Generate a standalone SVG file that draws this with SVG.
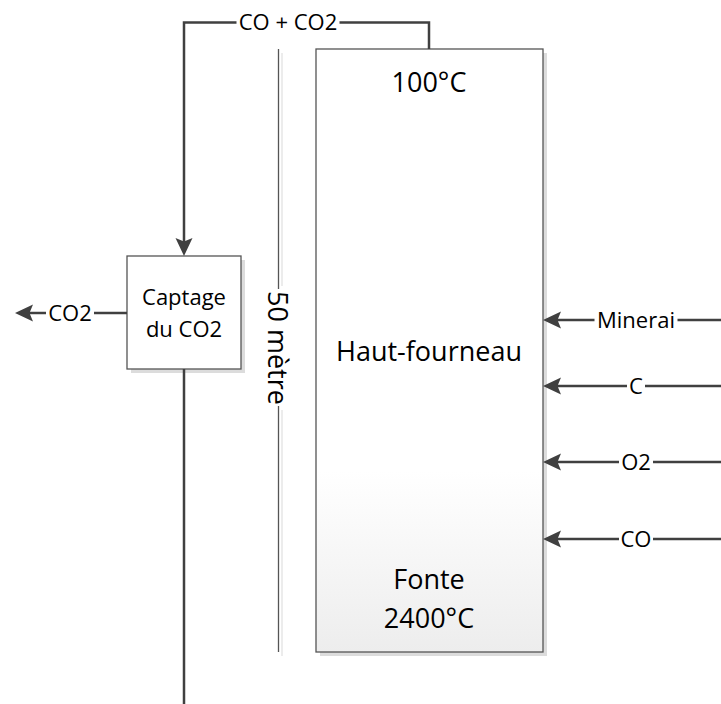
<svg xmlns="http://www.w3.org/2000/svg" width="721" height="704" viewBox="0 0 721 704">
<style>
text{font-family:"Open Sans","Noto Sans","Liberation Sans",sans-serif;fill:#000}
.big{font-size:27px}
.sm{font-size:22px}
.conn{fill:none;stroke:#404040;stroke-width:2.5}
.box{stroke:#555;stroke-width:1.3}
.shadow{fill:#dcdcdc}
</style>
<defs>
<marker id="arr" markerUnits="userSpaceOnUse" markerWidth="18" markerHeight="18" viewBox="0 0 18 18" refX="8" refY="9" orient="auto">
<path d="M0,0.5 L18,9 L0,17.5 L3.5,9 Z" fill="#404040"/>
</marker>
<linearGradient id="g" x1="0" y1="0" x2="0" y2="1">
<stop offset="0" stop-color="#ffffff"/>
<stop offset="0.7" stop-color="#ffffff"/>
<stop offset="1" stop-color="#ededed"/>
</linearGradient>
</defs>

<g id="dimension">
<line x1="282" y1="53" x2="282" y2="656" stroke="#e2e2e2" stroke-width="1.3"/>
<rect x="264" y="286" width="26" height="124" fill="#fff"/>
<line x1="278.5" y1="49" x2="278.5" y2="289" stroke="#555" stroke-width="1.3"/>
<line x1="278.5" y1="406" x2="278.5" y2="652" stroke="#555" stroke-width="1.3"/>
<text class="big" transform="translate(268,348) rotate(90)" text-anchor="middle">50 mètre</text>
</g>

<g id="haut-fourneau">
<rect class="shadow" x="320" y="53" width="227" height="603"/>
<rect class="box" x="316" y="49" width="227" height="603" fill="url(#g)"/>
<text class="big" x="429" y="92" text-anchor="middle">100°C</text>
<text class="big" x="429" y="361" text-anchor="middle">Haut-fourneau</text>
<text class="big" x="429" y="589" text-anchor="middle">Fonte</text>
<text class="big" x="429" y="628" text-anchor="middle">2400°C</text>
</g>

<g id="captage">
<rect class="shadow" x="131" y="260" width="114" height="113"/>
<rect class="box" x="127" y="256" width="114" height="113" fill="#fff"/>
<text class="sm" x="184" y="305" text-anchor="middle">Captage</text>
<text class="sm" x="184" y="337" text-anchor="middle">du CO2</text>
</g>

<g id="connectors">
<path class="conn" d="M429,49 V22.5 H339.5"/>
<path class="conn" d="M236.5,22.5 H184 V246" marker-end="url(#arr)"/>
<text class="sm" x="288" y="30" text-anchor="middle">CO + CO2</text>

<path class="conn" d="M127,313 H94"/>
<path class="conn" d="M46,313 H25" marker-end="url(#arr)"/>
<text class="sm" x="70" y="321" text-anchor="middle">CO2</text>

<path class="conn" d="M184,369 V704"/>

<path class="conn" d="M721,320 H677.5"/>
<path class="conn" d="M594.5,320 H553" marker-end="url(#arr)"/>
<text class="sm" x="636" y="327.5" text-anchor="middle">Minerai</text>

<path class="conn" d="M721,386 H645"/>
<path class="conn" d="M627,386 H553" marker-end="url(#arr)"/>
<text class="sm" x="636" y="393.5" text-anchor="middle">C</text>

<path class="conn" d="M721,462 H653"/>
<path class="conn" d="M619,462 H553" marker-end="url(#arr)"/>
<text class="sm" x="636" y="469.5" text-anchor="middle">O2</text>

<path class="conn" d="M721,539 H653"/>
<path class="conn" d="M619,539 H553" marker-end="url(#arr)"/>
<text class="sm" x="636" y="546.5" text-anchor="middle">CO</text>
</g>
</svg>
